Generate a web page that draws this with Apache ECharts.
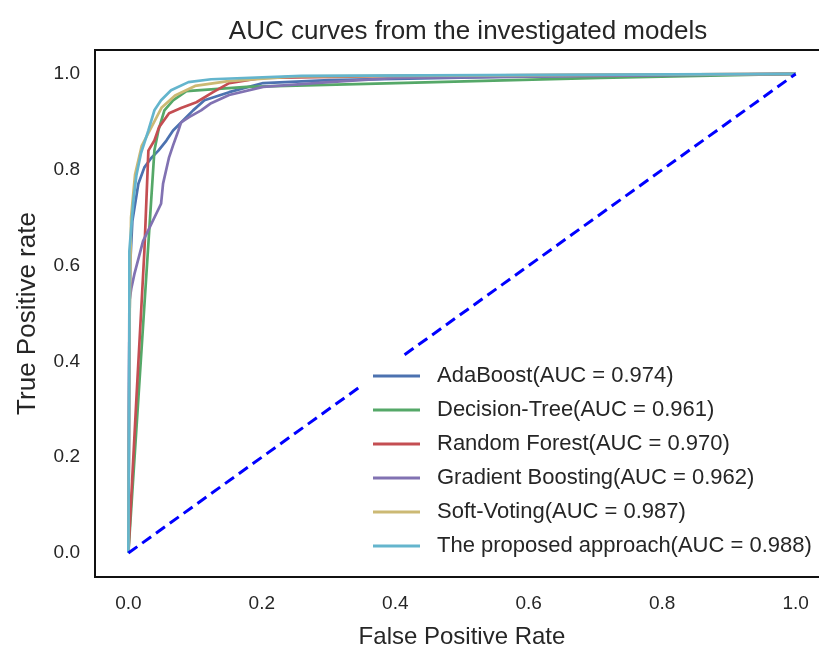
<!DOCTYPE html>
<html lang="en">
<head>
    <meta charset="UTF-8">
    <title>AUC curves</title>
    <style type="text/css">
        * {
            margin: 0;
            padding: 0;
        }

        html, body {
            width: 100%;
            height: 100%;
            background: #fff;
        }

        #main {
            width: 819px;
            height: 648px;
        }
    </style>
</head>
<body>
<div id="main"></div>
<script src="https://cdn.jsdelivr.net/npm/echarts@6/dist/echarts.min.js"></script>
<script>
    // ROC points (false positive rate / true positive rate)
    const adaFpr = [0, 0.0015, 0.003, 0.006, 0.015, 0.024, 0.034, 0.045, 0.057, 0.067, 0.082, 0.097, 0.114, 0.151, 0.202, 0.301, 0.558, 1];
    const adaTpr = [0, 0.462, 0.609, 0.693, 0.771, 0.805, 0.824, 0.840, 0.861, 0.882, 0.903, 0.924, 0.945, 0.962, 0.981, 0.987, 0.994, 1];

    const treeFpr = [0, 0.039, 0.045, 0.054, 0.067, 0.087, 0.177, 0.401, 0.708, 1];
    const treeTpr = [0, 0.840, 0.882, 0.924, 0.945, 0.964, 0.973, 0.981, 0.992, 1];

    const forestFpr = [0, 0.012, 0.024, 0.030, 0.039, 0.046, 0.061, 0.079, 0.102, 0.127, 0.151, 0.202, 0.409, 1];
    const forestTpr = [0, 0.321, 0.630, 0.840, 0.861, 0.889, 0.918, 0.929, 0.941, 0.962, 0.981, 0.992, 0.996, 1];

    const gbFpr = [0, 0.0015, 0.0045, 0.009, 0.022, 0.049, 0.052, 0.061, 0.067, 0.075, 0.079, 0.091, 0.109, 0.124, 0.151, 0.202, 0.301, 0.401, 0.708, 1];
    const gbTpr = [0, 0.525, 0.553, 0.582, 0.651, 0.729, 0.771, 0.826, 0.851, 0.882, 0.899, 0.910, 0.924, 0.939, 0.956, 0.973, 0.983, 0.992, 0.996, 1];

    const voteFpr = [0, 0.002, 0.004, 0.010, 0.020, 0.035, 0.050, 0.070, 0.100, 0.150, 0.250, 1];
    const voteTpr = [0, 0.500, 0.700, 0.790, 0.850, 0.890, 0.930, 0.955, 0.975, 0.985, 0.995, 1];

    const propFpr = [0, 0.0015, 0.0015, 0.0075, 0.012, 0.019, 0.030, 0.039, 0.049, 0.064, 0.090, 0.124, 0.259, 1];
    const propTpr = [0, 0.462, 0.630, 0.735, 0.788, 0.835, 0.882, 0.924, 0.945, 0.966, 0.983, 0.989, 0.996, 1];

    const chanceFpr = [0, 1];
    const chanceTpr = [0, 1];

    const modelNames = [
        'AdaBoost(AUC = 0.974)',
        'Decision-Tree(AUC = 0.961)',
        'Random Forest(AUC = 0.970)',
        'Gradient Boosting(AUC = 0.962)',
        'Soft-Voting(AUC = 0.987)',
        'The proposed approach(AUC = 0.988)'
    ];
    const modelColors = ['#4C72B0', '#55A868', '#C44E52', '#8172B2', '#CCB974', '#64B5CD'];
    const xTicks = [0, 0.2, 0.4, 0.6, 0.8, 1.0];
    const yTicks = [0, 0.2, 0.4, 0.6, 0.8, 1.0];

    const curves = [
        [adaFpr, adaTpr],
        [treeFpr, treeTpr],
        [forestFpr, forestTpr],
        [gbFpr, gbTpr],
        [voteFpr, voteTpr],
        [propFpr, propTpr]
    ];

    function pairs(xs, ys) {
        return xs.map(function (x, i) { return [x, ys[i]]; });
    }

    var textColor = '#262626';
    var font = 'Liberation Sans, Arial, sans-serif';

    var series = curves.map(function (c, i) {
        return {
            name: modelNames[i],
            type: 'line',
            symbol: 'none',
            color: modelColors[i],
            lineStyle: { width: 2.7, color: modelColors[i] },
            data: pairs(c[0], c[1])
        };
    });
    // diagonal reference line, drawn on top, not in legend
    series.push({
        name: 'chance',
        type: 'line',
        symbol: 'none',
        z: 3,
        lineStyle: { width: 3, color: '#0000ff', type: [11, 6] },
        data: pairs(chanceFpr, chanceTpr)
    });

    var myChart = echarts.init(document.getElementById('main'));
    var option = {
        animation: false,
        backgroundColor: '#fff',
        textStyle: { fontFamily: font },
        title: {
            text: 'AUC curves from the investigated models',
            left: 463,
            textAlign: 'center',
            top: 14,
            textStyle: { fontSize: 26, fontWeight: 'normal', color: textColor, fontFamily: font }
        },
        // the right side of the frame is cut off by the picture edge
        grid: {
            left: 95,
            top: 50,
            right: -10,
            bottom: 71,
            outerBoundsMode: 'none',
            containLabel: false,
            show: true,
            borderColor: '#111',
            borderWidth: 2
        },
        legend: {
            data: modelNames,
            orient: 'vertical',
            left: 362,
            top: 357,
            icon: 'rect',
            itemWidth: 47,
            itemHeight: 3,
            itemGap: 12,
            padding: [8, 8, 8, 11],
            backgroundColor: '#fff',
            textStyle: {
                fontSize: 22,
                lineHeight: 22,
                color: textColor,
                fontFamily: font,
                padding: [0, 0, 0, 12]
            }
        },
        xAxis: {
            type: 'value',
            min: -0.05,
            max: 1.05,
            name: 'False Positive Rate',
            nameLocation: 'middle',
            nameGap: 48,
            nameTextStyle: { fontSize: 24, color: textColor, fontFamily: font },
            axisLine: { show: false },
            axisTick: { show: false },
            splitLine: { show: false },
            axisLabel: {
                customValues: xTicks,
                fontSize: 19,
                color: textColor,
                margin: 17,
                formatter: function (v) { return v.toFixed(1); }
            }
        },
        yAxis: {
            type: 'value',
            min: -0.05,
            max: 1.05,
            name: 'True Positive rate',
            nameLocation: 'middle',
            nameGap: 54,
            nameTextStyle: { fontSize: 26, color: textColor, fontFamily: font },
            axisLine: { show: false },
            axisTick: { show: false },
            splitLine: { show: false },
            axisLabel: {
                customValues: yTicks,
                fontSize: 19,
                color: textColor,
                margin: 15,
                formatter: function (v) { return v.toFixed(1); }
            }
        },
        series: series
    };
    myChart.setOption(option);
</script>
</body>
</html>
